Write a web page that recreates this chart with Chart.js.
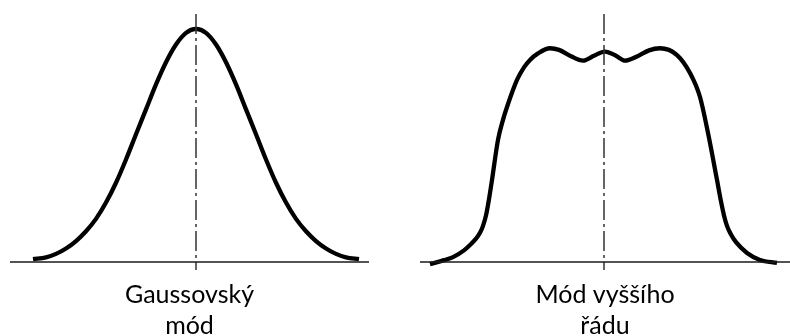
<!DOCTYPE html>
<html>
<head>
<meta charset="utf-8">
<script src="https://cdn.jsdelivr.net/npm/chart.js@4"></script>
<style>
  body { margin: 0; background: #fff; }
  .row { display: flex; width: 790px; height: 336px; }
  canvas { display: block; }
</style>
</head>
<body>
<div class="row">
  <canvas id="chartGauss" width="395" height="336"></canvas>
  <canvas id="chartHigher" width="395" height="336"></canvas>
</div>
<script>
// offset from beam axis vs. relative intensity
const gaussX = [-163, -150, -140, -130, -120, -110, -100, -90, -80, -70, -60, -50, -40, -30, -20, -10, 0,
  10, 20, 30, 40, 50, 60, 70, 80, 90, 100, 110, 120, 130, 140, 150, 163];
const gaussY = [0.012, 0.02, 0.035, 0.058, 0.09, 0.132, 0.185, 0.255, 0.34, 0.44, 0.548, 0.655, 0.762, 0.857, 0.933, 0.983, 1,
  0.983, 0.933, 0.857, 0.762, 0.655, 0.548, 0.44, 0.34, 0.255, 0.185, 0.132, 0.09, 0.058, 0.035, 0.02, 0.012];

const higherX = [-174, -160, -151, -140, -134, -128, -124, -121, -118, -115, -112, -106, -101, -97, -87, -80, -74, -66, -54,
  -45, -33, -21, -10, 1, 12, 21, 33, 45, 56, 73, 86, 96, 104, 113, 117, 120, 123, 127, 132, 143, 156, 173];
const higherY = [-0.009, 0.008, 0.021, 0.05, 0.073, 0.1, 0.125, 0.155, 0.2, 0.27, 0.352, 0.524, 0.61, 0.665, 0.781, 0.835, 0.867, 0.895, 0.917,
  0.91, 0.883, 0.864, 0.885, 0.903, 0.885, 0.864, 0.882, 0.908, 0.917, 0.888, 0.811, 0.708, 0.554, 0.352, 0.26, 0.2, 0.155, 0.118, 0.085, 0.039, 0.009, -0.004];

const gaussLabel = ["Gaussovský", "mód"];
const higherLabel = ["Mód vyššího", "řádu"];

const Y_MIN = -0.0343;
const Y_MAX = 1.064;

function makeChart(id, xs, ys, label, xMin, xMax, padLeft, padRight) {
  const curve = xs.map((x, i) => ({ x: x, y: ys[i] }));
  new Chart(document.querySelector(id), {
    type: "line",
    data: {
      datasets: [
        {
          // baseline
          data: [{ x: xMin, y: 0 }, { x: xMax, y: 0 }],
          borderColor: "#1a1a1a",
          borderWidth: 1.5,
          pointRadius: 0,
        },
        {
          // axis of symmetry, dash-dot
          data: [{ x: 0, y: Y_MAX }, { x: 0, y: Y_MIN }],
          borderColor: "#333",
          borderWidth: 1.5,
          borderDash: [20, 4, 3, 4],
          pointRadius: 0,
        },
        {
          data: curve,
          borderColor: "#000",
          borderWidth: 4.3,
          pointRadius: 0,
          cubicInterpolationMode: "monotone",
          fill: false,
        },
      ],
    },
    options: {
      responsive: false,
      animation: false,
      layout: { padding: { left: padLeft, right: padRight, top: 14, bottom: 0 } },
      scales: {
        x: {
          type: "linear",
          min: xMin,
          max: xMax,
          grid: { display: false, drawTicks: false },
          border: { display: false },
          ticks: { display: false },
          title: {
            display: true,
            text: label,
            color: "#000",
            font: { family: "Lato", size: 25, lineHeight: "31px" },
            padding: { top: 9, bottom: -5 },
          },
        },
        y: {
          display: false,
          min: Y_MIN,
          max: Y_MAX,
        },
      },
      plugins: {
        legend: { display: false },
        tooltip: { enabled: false },
      },
    },
  });
}

document.addEventListener("DOMContentLoaded", () => {
  makeChart("#chartGauss", gaussX, gaussY, gaussLabel, -186, 173, 10, 26);
  makeChart("#chartHigher", higherX, higherY, higherLabel, -184, 186, 25, 0);
});
</script>
</body>
</html>
